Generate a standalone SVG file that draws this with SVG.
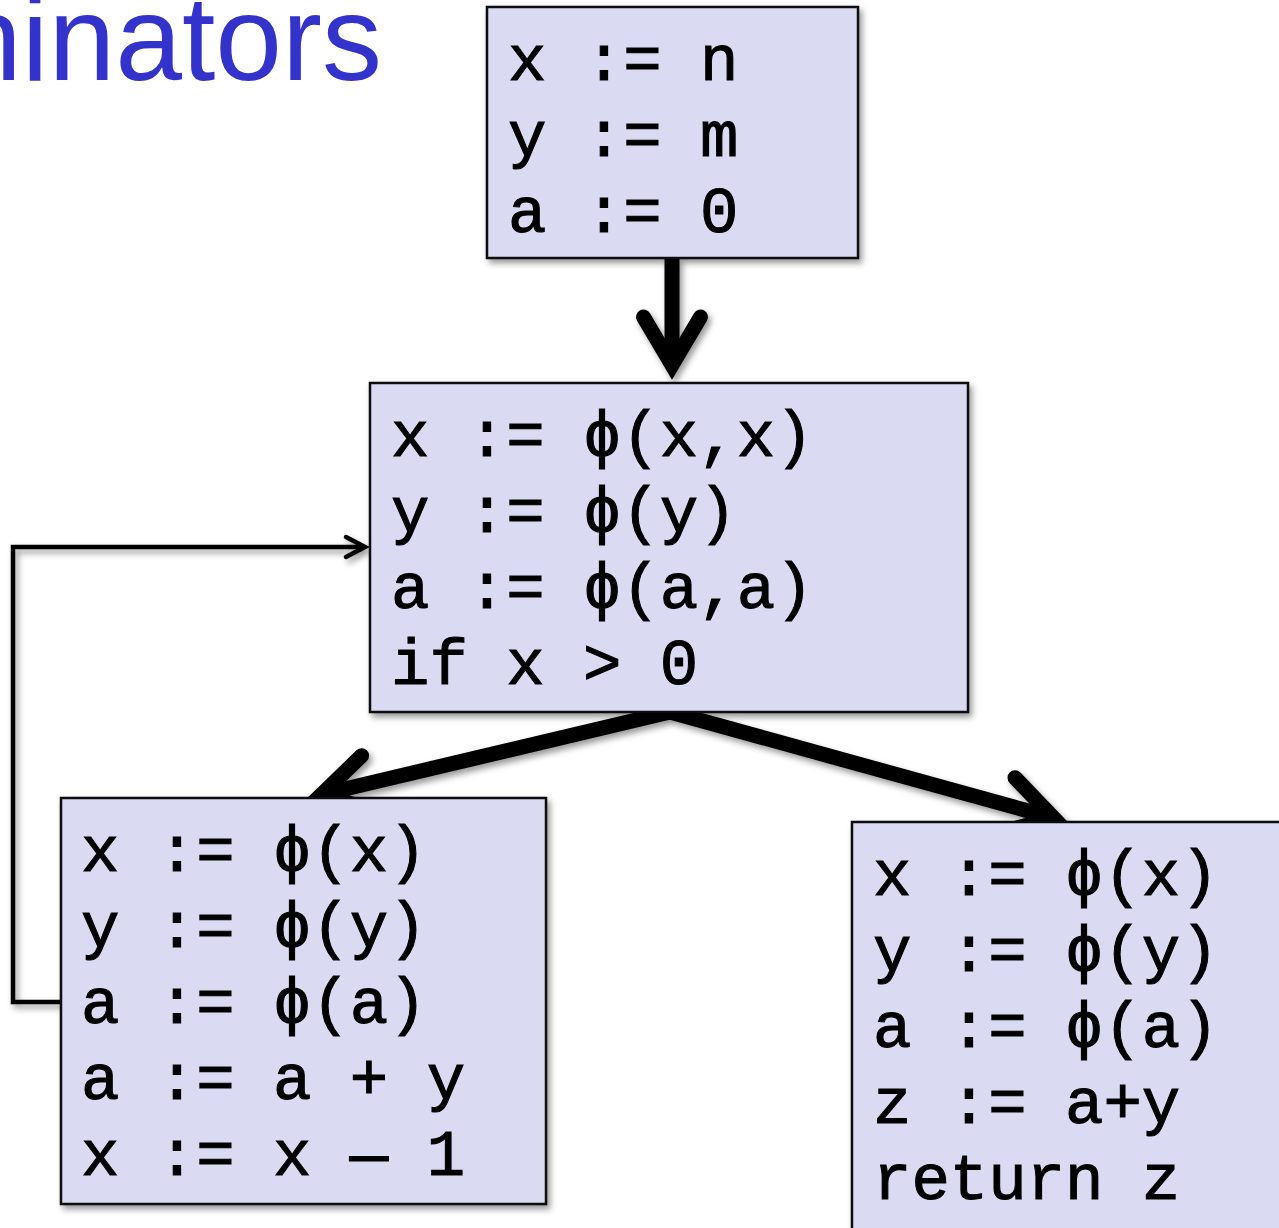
<svg xmlns="http://www.w3.org/2000/svg" width="1279" height="1228" viewBox="0 0 1279 1228">
<style>
.box{fill:#dadaf3;stroke:#111;stroke-width:2.5}
.code{font-family:"Liberation Mono","DejaVu Sans Mono","Courier New",monospace;font-size:64px;fill:#000;stroke:#000;stroke-width:1.1}
.title{font-family:"Liberation Sans",Arial,sans-serif;font-size:120px;fill:#3333cc}
.thick{fill:none;stroke:#000;stroke-width:15;stroke-linecap:butt}
.thin{fill:none;stroke:#000;stroke-width:4.5;stroke-linejoin:miter}
</style>
<defs>
<filter id="sh" x="-10%" y="-10%" width="130%" height="130%">
<feDropShadow dx="3" dy="4" stdDeviation="3" flood-color="#000" flood-opacity="0.4"/>
</filter>
<marker id="headThick" markerUnits="strokeWidth" viewBox="-5 -3 6 6" refX="0" refY="0" markerWidth="6" markerHeight="6" orient="auto" overflow="visible">
<path d="M-3.2,-1.9 L0,0 L-3.2,1.9" fill="none" stroke="#000" stroke-width="1" stroke-linecap="round" stroke-linejoin="miter"/>
</marker>
<marker id="headThin" markerUnits="userSpaceOnUse" viewBox="-30 -15 40 30" refX="0" refY="0" markerWidth="40" markerHeight="30" orient="auto" overflow="visible">
<path d="M-19,-10 L0,0 L-19,10" fill="none" stroke="#000" stroke-width="4.5" stroke-linecap="round" stroke-linejoin="miter"/>
</marker>
</defs>

<text class="title" x="382" y="80" text-anchor="end">ninators</text>

<g id="connectors" filter="url(#sh)">
<path class="thick" d="M672,258 L672,365" marker-end="url(#headThick)"/>
<path class="thick" d="M670,712 L321.5,794.5" marker-end="url(#headThick)"/>
<path class="thick" d="M670,712 L1053.7,818" marker-end="url(#headThick)"/>
<path class="thin" d="M61,1002 L13,1002 L13,547 L365,547" marker-end="url(#headThin)"/>
</g>

<g id="n1" filter="url(#sh)">
<rect class="box" x="487" y="7" width="371" height="251"/>
<text class="code"><tspan x="508" y="80">x := n</tspan><tspan x="508" y="156">y := m</tspan><tspan x="508" y="232">a := 0</tspan></text>
</g>

<g id="n2" filter="url(#sh)">
<rect class="box" x="370" y="383" width="598" height="329"/>
<text class="code"><tspan x="391" y="456">x := ϕ(x,x)</tspan><tspan x="391" y="532">y := ϕ(y)</tspan><tspan x="391" y="608">a := ϕ(a,a)</tspan><tspan x="391" y="684">if x &gt; 0</tspan></text>
</g>

<g id="n3" filter="url(#sh)">
<rect class="box" x="61" y="798" width="485" height="406"/>
<text class="code"><tspan x="81" y="871">x := ϕ(x)</tspan><tspan x="81" y="947">y := ϕ(y)</tspan><tspan x="81" y="1023">a := ϕ(a)</tspan><tspan x="81" y="1099">a := a + y</tspan><tspan x="81" y="1175">x := x — 1</tspan></text>
</g>

<g id="n4" filter="url(#sh)">
<rect class="box" x="852" y="822" width="440" height="420"/>
<text class="code"><tspan x="873" y="895">x := ϕ(x)</tspan><tspan x="873" y="971">y := ϕ(y)</tspan><tspan x="873" y="1047">a := ϕ(a)</tspan><tspan x="873" y="1123">z := a+y</tspan><tspan x="873" y="1199">return z</tspan></text>
</g>
</svg>
